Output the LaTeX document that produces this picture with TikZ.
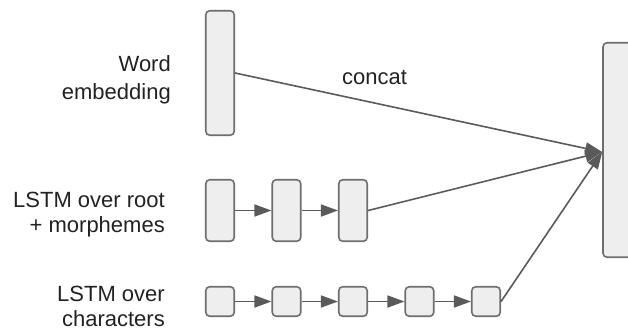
\documentclass[tikz,border=0pt]{standalone}
\usepackage{fontspec}
\setmainfont{Liberation Sans}
\usetikzlibrary{arrows.meta}
\definecolor{boxfill}{HTML}{EEEEEE}
\definecolor{boxline}{HTML}{6E6E6E}
\definecolor{connline}{HTML}{5A5A5A}
\definecolor{txt}{HTML}{222222}
\tikzset{
  cell/.style={draw=boxline, fill=boxfill, line width=1.6pt, rounded corners=4pt,
    inner sep=0pt, minimum width=28.5pt},
  conn/.style={draw=connline, line width=1.6pt,
    -{Triangle[length=17pt,width=12pt]}},
  lbl/.style={text=txt, font=\fontsize{22}{27}\selectfont, align=right,
    anchor=north east, inner sep=0pt}
}
\begin{document}
\begin{tikzpicture}[x=1pt,y=-1pt]
\useasboundingbox (0,0) rectangle (628,330);
% word embedding
\node[cell, minimum height=124.5pt] (we) at (220,73) {};
% big output vector
\node[cell, minimum width=44pt, minimum height=214.5pt] (big) at (625,150) {};
\coordinate (tgt) at ([yshift=-2pt]big.west);
% root + morphemes LSTM
\node[cell, minimum height=61.5pt] (r1) at (220,210.5) {};
\node[cell, minimum height=61.5pt] (r2) at (286.5,210.5) {};
\node[cell, minimum height=61.5pt] (r3) at (353,210.5) {};
% character LSTM
\node[cell, minimum height=29.5pt] (c1) at (220,301.5) {};
\node[cell, minimum height=29.5pt] (c2) at (286.5,301.5) {};
\node[cell, minimum height=29.5pt] (c3) at (353,301.5) {};
\node[cell, minimum height=29.5pt] (c4) at (419.5,301.5) {};
\node[cell, minimum height=29.5pt] (c5) at (486,301.5) {};
% chain arrows
\draw[conn] (r1.east) -- (r2.west);
\draw[conn] (r2.east) -- (r3.west);
\draw[conn] (c1.east) -- (c2.west);
\draw[conn] (c2.east) -- (c3.west);
\draw[conn] (c3.east) -- (c4.west);
\draw[conn] (c4.east) -- (c5.west);
% concat arrows
\draw[conn] (we.east) -- (tgt);
\draw[conn] (r3.east) -- (tgt);
\draw[conn] (c5.east) -- (tgt);
% labels
\node[text=txt, font=\fontsize{22}{27}\selectfont, anchor=base, inner sep=0pt] (concat) at (374.5,84) {concat};
\node[lbl, font=\fontsize{22}{28}\selectfont] (lwe) at (171,55) {Word\\embedding};
\node[lbl, font=\fontsize{22}{25}\selectfont] (lroot) at (165,192) {LSTM over root\\+ morphemes};
\node[lbl, font=\fontsize{22}{24.5}\selectfont] (lchar) at (165,286) {LSTM over\\characters};
\end{tikzpicture}
\end{document}
